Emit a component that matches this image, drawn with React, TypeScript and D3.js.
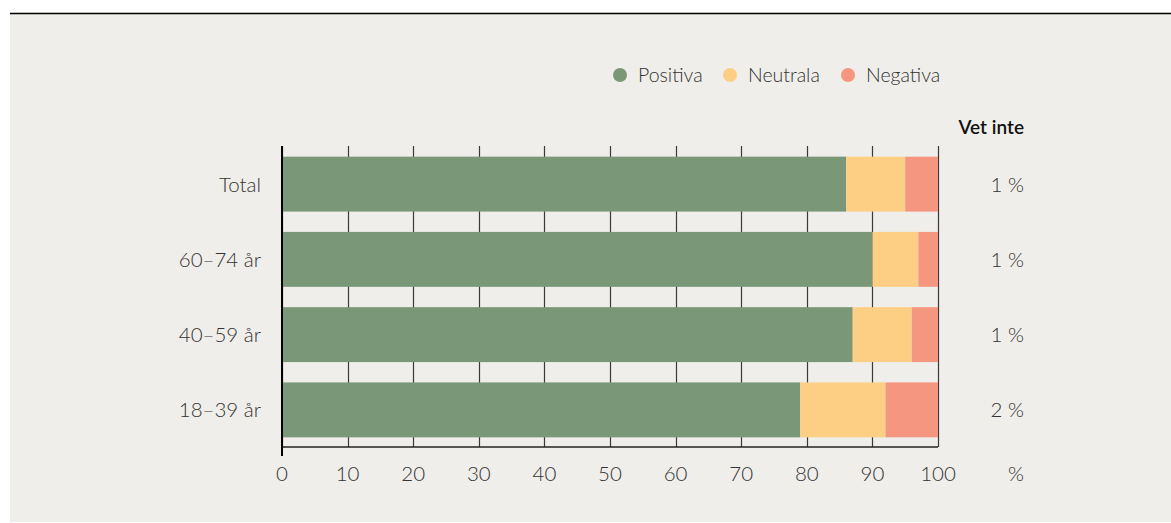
import React from "react";
import * as d3 from "d3";

const categories = ["Total", "60–74 år", "40–59 år", "18–39 år"];
const positiva = [86, 90, 87, 79];
const neutrala = [9, 7, 9, 13];
const negativa = [5, 3, 4, 8];
const vetInte = ["1 %", "1 %", "1 %", "2 %"];
const seriesNames = ["Positiva", "Neutrala", "Negativa"];
const seriesColors = ["#7a9878", "#fdcf84", "#f59680"];
const xTicks = [0, 10, 20, 30, 40, 50, 60, 70, 80, 90, 100];

const W = 1171;
const H = 523;
const FONT = "Lato, 'Open Sans', sans-serif";

export default function App() {
  const x = d3.scaleLinear().domain([0, 100]).range([282, 938]);
  const y = d3
    .scaleBand<string>()
    .domain(categories)
    .range([146.5, 447.5])
    .paddingInner(0.27)
    .paddingOuter(0.135);

  const rows = categories.map((c, i) => ({
    cat: c,
    vals: [positiva[i], neutrala[i], negativa[i]],
  }));
  const stacked = d3.stack<any>().keys(["0", "1", "2"])(
    rows.map((r) => ({ "0": r.vals[0], "1": r.vals[1], "2": r.vals[2], cat: r.cat }))
  );

  const legendX = [620, 730, 848];

  return (
    <svg
      width={W}
      height={H}
      style={{ position: "absolute", left: 0, top: 0, background: "#fff" }}
      fontFamily={FONT}
    >
      <rect x={10} y={14} width={W - 10} height={508} fill="#efeeea" />
      <line x1={10} x2={W} y1={13.5} y2={13.5} stroke="#000" strokeWidth={1.6} />

      {/* legend */}
      {seriesNames.map((s, i) => (
        <g key={s}>
          <circle cx={legendX[i]} cy={75} r={7} fill={seriesColors[i]} />
          <text x={legendX[i] + 18} y={82} fontSize={19.5} fontWeight={300} fill="#333">
            {s}
          </text>
        </g>
      ))}

      <text x={1024} y={134} textAnchor="end" fontSize={19} fontWeight={600} fill="#111">
        Vet inte
      </text>

      {/* gridlines */}
      {xTicks.map((t) => (
        <line
          key={t}
          x1={Math.round(x(t)) + 0.5}
          x2={Math.round(x(t)) + 0.5}
          y1={146}
          y2={447}
          stroke="#3a3a3a"
          strokeWidth={1.2}
        />
      ))}

      {/* bars */}
      {stacked.map((layer, si) => (
        <g key={si} fill={seriesColors[si]}>
          {layer.map((d: any, i: number) => (
            <rect
              key={i}
              x={x(d[0])}
              width={x(d[1]) - x(d[0])}
              y={y(categories[i])}
              height={y.bandwidth()}
            />
          ))}
        </g>
      ))}

      {/* axes */}
      <line x1={282} x2={938} y1={447} y2={447} stroke="#222" strokeWidth={1.5} />
      <line x1={282} x2={282} y1={146} y2={456} stroke="#000" strokeWidth={2} />

      {xTicks.map((t) => (
        <text
          key={t}
          x={x(t)}
          y={481}
          textAnchor="middle"
          fontSize={20.5}
          fontWeight={300}
          fill="#333"
        >
          {t}
        </text>
      ))}
      <text x={1016} y={481} textAnchor="middle" fontSize={20.5} fontWeight={300} fill="#333">
        %
      </text>

      {categories.map((c, i) => (
        <text
          key={c}
          x={261}
          y={(y(c) as number) + y.bandwidth() / 2 + 7.5}
          textAnchor="end"
          fontSize={20.5}
          fontWeight={300}
          fill="#333"
        >
          {c}
        </text>
      ))}

      {categories.map((c, i) => (
        <text
          key={c}
          x={1024}
          y={(y(c) as number) + y.bandwidth() / 2 + 7.5}
          textAnchor="end"
          fontSize={20.5}
          fontWeight={300}
          fill="#333"
        >
          {vetInte[i]}
        </text>
      ))}
    </svg>
  );
}
